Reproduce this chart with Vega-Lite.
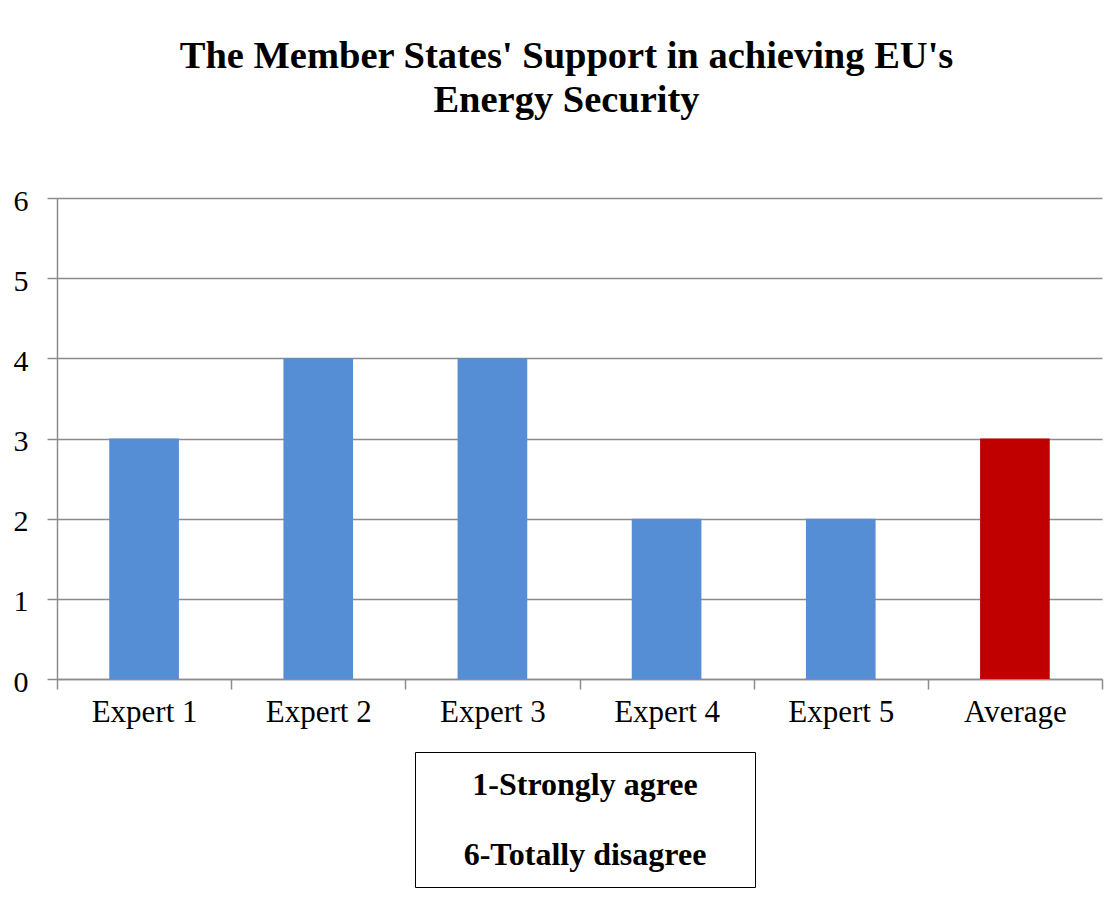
{
  "$schema": "https://vega.github.io/schema/vega-lite/v6.json",
  "width": 1045,
  "height": 481,
  "autosize": "none",
  "padding": {"left": 57, "top": 198, "right": 7, "bottom": 231},
  "background": "white",
  "config": {
    "view": {"stroke": null},
    "font": "Liberation Serif"
  },
  "title": {
    "text": ["The Member States' Support in achieving EU's", "Energy Security"],
    "font": "Liberation Serif",
    "fontSize": 38.5,
    "fontWeight": "bold",
    "color": "black",
    "lineHeight": 44,
    "anchor": "middle",
    "dx": -13,
    "offset": 66
  },
  "layer": [
    {
      "data": {
        "values": [
          {"category": "Expert 1", "score": 3, "group": "Expert"},
          {"category": "Expert 2", "score": 4, "group": "Expert"},
          {"category": "Expert 3", "score": 4, "group": "Expert"},
          {"category": "Expert 4", "score": 2, "group": "Expert"},
          {"category": "Expert 5", "score": 2, "group": "Expert"},
          {"category": "Average", "score": 3, "group": "Average"}
        ]
      },
      "mark": {"type": "bar", "width": {"band": 0.4}},
      "encoding": {
        "x": {
          "field": "category",
          "type": "nominal",
          "sort": null,
          "scale": {"paddingInner": 0, "paddingOuter": 0},
          "axis": {
            "title": null,
            "labelAngle": 0,
            "labelFont": "Liberation Serif",
            "labelFontSize": 31,
            "labelColor": "black",
            "labelPadding": 8,
            "tickBand": "extent",
            "tickSize": 10,
            "tickColor": "#8c8c8c",
            "tickWidth": 1.5,
            "domainColor": "#8c8c8c",
            "domainWidth": 1.5,
            "grid": false
          }
        },
        "y": {
          "field": "score",
          "type": "quantitative",
          "scale": {"domain": [0, 6], "nice": false},
          "axis": {
            "title": null,
            "values": [0, 1, 2, 3, 4, 5, 6],
            "labelFont": "Liberation Serif",
            "labelFontSize": 30,
            "labelColor": "black",
            "labelPadding": 19,
            "labelOffset": 3,
            "tickSize": 10,
            "tickColor": "#8c8c8c",
            "tickWidth": 1.5,
            "domainColor": "#8c8c8c",
            "domainWidth": 1.5,
            "grid": true,
            "gridColor": "#8c8c8c",
            "gridWidth": 1.5
          }
        },
        "color": {
          "field": "group",
          "type": "nominal",
          "scale": {"domain": ["Expert", "Average"], "range": ["#558ED5", "#C00000"]},
          "legend": null
        }
      }
    },
    {
      "data": {
        "values": [
          {"note": "1-Strongly agree"},
          {"note": "6-Totally disagree"}
        ]
      },
      "mark": {"type": "point", "opacity": 0},
      "encoding": {
        "shape": {
          "field": "note",
          "type": "nominal",
          "scale": {"range": ["M-9.6,0H9.6"]},
          "legend": {
            "title": null,
            "orient": "none",
            "legendX": 358,
            "legendY": 554,
            "direction": "vertical",
            "strokeColor": "black",
            "padding": 16,
            "symbolSize": 1024,
            "symbolOffset": 137.5,
            "symbolOpacity": 0,
            "symbolStrokeWidth": 1,
            "symbolStrokeColor": "white",
            "labelOffset": -16.5,
            "labelAlign": "center",
            "labelBaseline": "middle",
            "labelFont": "Liberation Serif",
            "labelFontSize": 32,
            "labelFontWeight": "bold",
            "labelColor": "black",
            "labelLimit": 0,
            "rowPadding": 37,
            "encode": {"legend": {"update": {"strokeWidth": {"value": 2}}}}
          }
        }
      }
    }
  ]
}
